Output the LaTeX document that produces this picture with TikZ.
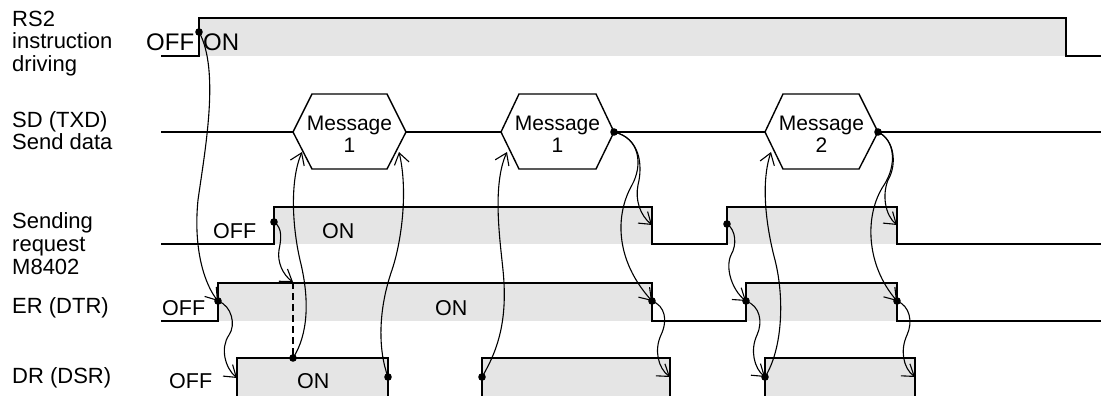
\documentclass[tikz,border=0pt]{standalone}
\usepackage{fontspec}
\setmainfont{Liberation Sans}
\usetikzlibrary{arrows.meta}
\begin{document}
\begin{tikzpicture}[x=1pt,y=-1pt,
  wave/.style={line width=1.4pt, line join=miter},
  sig/.style={fill=black!10},
  link/.style={line width=1.1pt, -{Straight Barb[length=11pt,width=15pt]}},
  plain/.style={line width=1.1pt},
  lbl/.style={font=\fontsize{22}{22}\selectfont, inner sep=0pt, align=left, anchor=base west},
  txt/.style={font=\fontsize{21.5}{22}\selectfont, inner sep=0pt, anchor=base west},
  bigtxt/.style={font=\fontsize{24}{24}\selectfont, inner sep=0pt, anchor=base west},
  msg/.style={font=\fontsize{21}{22}\selectfont, inner sep=0pt, align=center, anchor=base},
]
\useasboundingbox (0,0) rectangle (1101,396);
\clip (0,0) rectangle (1101,396);

% ---------- labels (anchored at the baseline of their last line) ----------
\node[lbl] (lrs) at (12,71) {RS2\\instruction\\driving};
\node[lbl] (lsd) at (12,149) {SD (TXD)\\Send data};
\node[lbl, font=\fontsize{22}{23}\selectfont] (lsr) at (12,274) {Sending\\request\\M8402};
\node[lbl] (ler) at (12,313) {ER (DTR)};
\node[lbl] (ldr) at (12,383) {DR (DSR)};

% ---------- key points ----------
\coordinate (rsdot) at (199,32);
\coordinate (err1) at (218,301);
\coordinate (drr1) at (237,378);
\coordinate (srdot1) at (274,222);
\coordinate (dashtop) at (293,282);
\coordinate (drdot1) at (293,358);
\coordinate (m1ain) at (302,152);
\coordinate (drdot2) at (388,377);
\coordinate (m1aout) at (399,152);
\coordinate (drdot3) at (482,377);
\coordinate (m1bin) at (507,152);
\coordinate (sddot1) at (614,132);
\coordinate (srf1) at (652,225);
\coordinate (erf1) at (652,301);
\coordinate (drf2) at (670,377);
\coordinate (srdot2) at (727,224);
\coordinate (err2) at (746,301);
\coordinate (drr3) at (765,377);
\coordinate (m2in) at (771,152);
\coordinate (sddot2) at (878,132);
\coordinate (srf2) at (897,225);
\coordinate (erf2) at (897,301);
\coordinate (drf3) at (915,377);

% ---------- RS2 ----------
\fill[sig] (199,18) rectangle (1066,56);
\draw[wave] (161,56) -- (199,56) -- (199,18) -- (1066,18) -- (1066,56) -- (1101,56);
\node[bigtxt] (rsoff) at (146,50.5) {OFF};
\node[bigtxt] (rson) at (203,50.5) {ON};

% ---------- SD ----------
\draw[wave] (161,132) -- (293,132);
\draw[wave] (406,132) -- (501,132);
\draw[wave] (614,132) -- (765,132);
\draw[plain] (878,132) -- (1101,132);
\draw[wave] (293,132) -- (312,94) -- (387,94) -- (406,132) -- (387,169) -- (312,169) -- cycle;
\draw[wave] (501,132) -- (519,94) -- (596,94) -- (614,132) -- (596,169) -- (519,169) -- cycle;
\draw[wave] (765,132) -- (783,94) -- (859,94) -- (878,132) -- (859,169) -- (783,169) -- cycle;
\node[msg] (m1a) at (349.5,152) {Message\\1};
\node[msg] (m1b) at (557.5,152) {Message\\1};
\node[msg] (m2) at (821.5,152) {Message\\2};

% ---------- Sending request ----------
\fill[sig] (274,207) rectangle (652,244);
\fill[sig] (727,207) rectangle (897,244);
\draw[wave] (161,244) -| (274,207) -| (652,244) -| (727,207) -| (897,244) -- (1101,244);
\node[txt] (sroff) at (213,238) {OFF};
\node[txt] (sron) at (322,238) {ON};

% ---------- ER ----------
\fill[sig] (218,283) rectangle (652,321);
\fill[sig] (746,283) rectangle (897,321);
\draw[wave] (161,321) -| (218,283) -| (652,321) -| (746,283) -| (897,321) -- (1101,321);
\node[txt] (eroff) at (162,315) {OFF};
\node[txt] (eron) at (435,315) {ON};

% ---------- DR ----------
\fill[sig] (237,358) rectangle (388,400);
\fill[sig] (482,358) rectangle (670,400);
\fill[sig] (765,358) rectangle (915,400);
\draw[wave] (237,400) |- (388,358) -- (388,400);
\draw[wave] (482,400) |- (670,358) -- (670,400);
\draw[wave] (765,400) |- (915,358) -- (915,400);
\node[txt] (droff) at (169,388) {OFF};
\node[txt] (dron) at (297,388) {ON};

% ---------- dashed ----------
\draw[plain, dash pattern=on 7pt off 4pt] (dashtop) -- (drdot1);

% ---------- causal arrows ----------
\draw[link] (rsdot) .. controls (220,70) and (205,150) .. (198,200) .. controls (193,250) and (205,285) .. (err1);
\draw[link] (err1) .. controls (232,306) and (236,325) .. (229,335) .. controls (220,348) and (225,368) .. (drr1);
\draw[link] (srdot1) .. controls (283,228) and (281,240) .. (279,250) .. controls (277,262) and (283,275) .. (dashtop);
\draw[link] (drdot1) .. controls (308,335) and (310,300) .. (300,260) .. controls (292,225) and (290,180) .. (m1ain);
\draw[link] (drdot2) .. controls (378,350) and (378,310) .. (392,270) .. controls (402,240) and (408,190) .. (m1aout);
\draw[link] (drdot3) .. controls (498,350) and (508,320) .. (503,270) .. controls (500,240) and (492,185) .. (m1bin);
\draw[link] (sddot1) .. controls (640,138) and (643,165) .. (638,185) .. controls (635,200) and (640,215) .. (srf1);
\draw[link] (sddot1) .. controls (640,138) and (643,165) .. (632,185) .. controls (615,215) and (615,260) .. (erf1);
\draw[link] (erf1) .. controls (665,306) and (668,320) .. (661,335) .. controls (654,350) and (658,368) .. (drf2);
\draw[link] (srdot2) .. controls (736,230) and (737,245) .. (731,255) .. controls (725,268) and (732,290) .. (err2);
\draw[link] (err2) .. controls (760,306) and (763,322) .. (757,335) .. controls (750,350) and (754,368) .. (drr3);
\draw[link] (drr3) .. controls (782,350) and (785,300) .. (775,260) .. controls (767,230) and (760,185) .. (m2in);
\draw[link] (sddot2) .. controls (895,140) and (897,165) .. (888,180) .. controls (882,195) and (885,215) .. (srf2);
\draw[link] (sddot2) .. controls (895,140) and (897,165) .. (884,185) .. controls (864,215) and (866,265) .. (erf2);
\draw[link] (erf2) .. controls (910,306) and (913,322) .. (907,335) .. controls (900,350) and (903,368) .. (drf3);

% ---------- dots ----------
\foreach \p in {rsdot,err1,srdot1,drdot1,drdot2,drdot3,sddot1,erf1,srdot2,err2,drr3,sddot2,erf2}
  \fill (\p) circle[radius=3.8pt];
\end{tikzpicture}
\end{document}
